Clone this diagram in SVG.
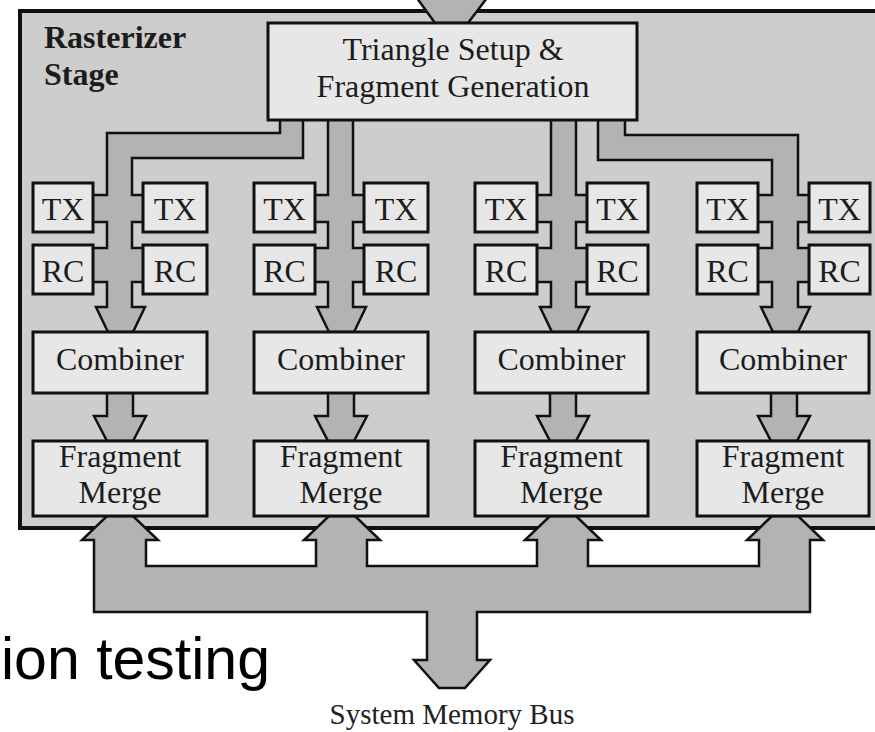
<svg xmlns="http://www.w3.org/2000/svg" width="875" height="732" viewBox="0 0 875 732">
  <style>
    .stage { fill: #cdcdcd; stroke: #111; stroke-width: 4; }
    .box { fill: #e7e7e7; stroke: #111; stroke-width: 3; }
    .arrow { fill: #b3b3b3; stroke: #111; stroke-width: 2.5; stroke-linejoin: miter; }
    .lbl { font-family: "Liberation Serif", "Times New Roman", serif; font-size: 32px; fill: #1c1c1c; text-anchor: middle; }
    .title { font-family: "Liberation Serif", "Times New Roman", serif; font-size: 32px; font-weight: bold; fill: #1c1c1c; }
    .bus { font-family: "Liberation Serif", "Times New Roman", serif; font-size: 29px; fill: #222; text-anchor: middle; }
    .slide { font-family: "Liberation Sans", Arial, sans-serif; font-size: 59px; fill: #000; }
  </style>

  <!-- rasterizer stage container -->
  <g id="rasterizer-stage">
    <rect class="stage" x="20" y="11" width="880" height="517"/>
    <text class="title" x="44" y="48">Rasterizer</text>
    <text class="title" x="44" y="85">Stage</text>
  </g>

  <!-- connectors: data paths drawn as wide outlined arrows -->
  <g id="connectors">
    <!-- incoming from the top -->
    <polygon class="arrow" points="414,-6 435,23 468,23 490,-6"/>

    <!-- column 1 feed (bends left) -->
    <polygon class="arrow" points="280,118 280,133 107,133 107,195 90,195 90,222 107,222 107,248 90,248 90,282 107,282 107,307 96,307 108,332 133,332 145,307 132,307 132,282 146,282 146,248 132,248 132,222 146,222 146,195 132,195 132,158 303,158 303,118"/>
    <!-- column 2 feed (straight) -->
    <polygon class="arrow" points="328,118 328,195 311,195 311,222 328,222 328,248 311,248 311,282 328,282 328,307 317,307 329,332 354,332 366,307 353,307 353,282 367,282 367,248 353,248 353,222 367,222 367,195 353,195 353,118"/>
    <!-- column 3 feed (straight) -->
    <polygon class="arrow" points="551,118 551,195 534,195 534,222 551,222 551,248 534,248 534,282 551,282 551,307 540,307 552,332 577,332 589,307 576,307 576,282 590,282 590,248 576,248 576,222 590,222 590,195 576,195 576,118"/>
    <!-- column 4 feed (bends right) -->
    <polygon class="arrow" points="598,118 598,160 772,160 772,195 755,195 755,222 772,222 772,248 755,248 755,282 772,282 772,307 761,307 773,332 798,332 810,307 798,307 798,282 812,282 812,248 798,248 798,222 812,222 812,195 798,195 798,135 625,135 625,118"/>

    <!-- combiner to fragment merge -->
    <polygon class="arrow" points="107,391 107,416 94,416 107,441 133,441 146,416 133,416 133,391"/>
    <polygon class="arrow" points="328,391 328,416 315,416 328,441 354,441 367,416 354,416 354,391"/>
    <polygon class="arrow" points="550,391 550,416 537,416 550,441 576,441 589,416 576,416 576,391"/>
    <polygon class="arrow" points="771,391 771,416 758,416 771,441 797,441 810,416 797,416 797,391"/>

    <!-- shared memory bus with its four taps and the downward exit -->
    <polygon class="arrow" points="94,612 94,540 82,540 107,516 133,516 158,540 146,540 146,566 316,566 316,540 304,540 329,516 355,516 380,540 367,540 367,566 537,566 537,540 525,540 550,516 576,516 601,540 588,540 588,566 759,566 759,540 747,540 772,516 798,516 823,540 810,540 810,612 477,612 477,660 490,660 465,688 439,688 414,660 427,660 427,612"/>
  </g>

  <!-- setup unit -->
  <g id="triangle-setup">
    <rect class="box" x="268" y="23" width="369" height="97"/>
    <text class="lbl" x="453" y="60">Triangle Setup &amp;</text>
    <text class="lbl" x="453" y="97">Fragment Generation</text>
  </g>

  <!-- column 1 -->
  <g id="tx-1a"><rect class="box" x="33" y="183" width="60" height="49"/><text class="lbl" x="63" y="220">TX</text></g>
  <g id="tx-1b"><rect class="box" x="143" y="183" width="64" height="49"/><text class="lbl" x="175" y="220">TX</text></g>
  <g id="rc-1a"><rect class="box" x="33" y="245" width="60" height="49"/><text class="lbl" x="63" y="282">RC</text></g>
  <g id="rc-1b"><rect class="box" x="143" y="245" width="64" height="49"/><text class="lbl" x="175" y="282">RC</text></g>
  <g id="combiner-1"><rect class="box" x="33" y="332" width="174" height="61"/><text class="lbl" x="120" y="370">Combiner</text></g>
  <g id="merge-1"><rect class="box" x="33" y="441" width="174" height="75"/><text class="lbl" x="120" y="467">Fragment</text><text class="lbl" x="120" y="503">Merge</text></g>

  <!-- column 2 -->
  <g id="tx-2a"><rect class="box" x="254" y="183" width="61" height="49"/><text class="lbl" x="284.5" y="220">TX</text></g>
  <g id="tx-2b"><rect class="box" x="364" y="183" width="64" height="49"/><text class="lbl" x="396" y="220">TX</text></g>
  <g id="rc-2a"><rect class="box" x="254" y="245" width="61" height="49"/><text class="lbl" x="284.5" y="282">RC</text></g>
  <g id="rc-2b"><rect class="box" x="364" y="245" width="64" height="49"/><text class="lbl" x="396" y="282">RC</text></g>
  <g id="combiner-2"><rect class="box" x="254" y="332" width="174" height="61"/><text class="lbl" x="341" y="370">Combiner</text></g>
  <g id="merge-2"><rect class="box" x="254" y="441" width="174" height="75"/><text class="lbl" x="341" y="467">Fragment</text><text class="lbl" x="341" y="503">Merge</text></g>

  <!-- column 3 -->
  <g id="tx-3a"><rect class="box" x="475" y="183" width="62" height="49"/><text class="lbl" x="506" y="220">TX</text></g>
  <g id="tx-3b"><rect class="box" x="587" y="183" width="61" height="49"/><text class="lbl" x="617.5" y="220">TX</text></g>
  <g id="rc-3a"><rect class="box" x="475" y="245" width="62" height="49"/><text class="lbl" x="506" y="282">RC</text></g>
  <g id="rc-3b"><rect class="box" x="587" y="245" width="61" height="49"/><text class="lbl" x="617.5" y="282">RC</text></g>
  <g id="combiner-3"><rect class="box" x="475" y="332" width="173" height="61"/><text class="lbl" x="561.5" y="370">Combiner</text></g>
  <g id="merge-3"><rect class="box" x="475" y="441" width="173" height="75"/><text class="lbl" x="561.5" y="467">Fragment</text><text class="lbl" x="561.5" y="503">Merge</text></g>

  <!-- column 4 -->
  <g id="tx-4a"><rect class="box" x="697" y="183" width="61" height="49"/><text class="lbl" x="727.5" y="220">TX</text></g>
  <g id="tx-4b"><rect class="box" x="809" y="183" width="61" height="49"/><text class="lbl" x="839.5" y="220">TX</text></g>
  <g id="rc-4a"><rect class="box" x="697" y="245" width="61" height="49"/><text class="lbl" x="727.5" y="282">RC</text></g>
  <g id="rc-4b"><rect class="box" x="809" y="245" width="61" height="49"/><text class="lbl" x="839.5" y="282">RC</text></g>
  <g id="combiner-4"><rect class="box" x="697" y="332" width="172" height="61"/><text class="lbl" x="783" y="370">Combiner</text></g>
  <g id="merge-4"><rect class="box" x="697" y="441" width="172" height="75"/><text class="lbl" x="783" y="467">Fragment</text><text class="lbl" x="783" y="503">Merge</text></g>

  <!-- bus label and slide caption -->
  <g id="memory-bus">
    <text class="bus" x="452" y="724">System Memory Bus</text>
  </g>
  <text class="slide" x="1" y="679">ion testing</text>
</svg>
